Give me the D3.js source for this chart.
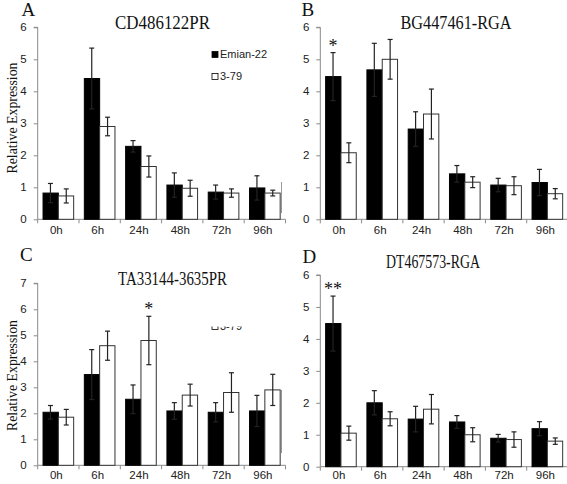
<!DOCTYPE html>
<html><head><meta charset="utf-8">
<script src="https://cdn.jsdelivr.net/npm/d3@7"></script>
<style>html,body{margin:0;padding:0;background:#fff;}svg{display:block;}</style>
</head><body>
<script>
const categories = ["0h","6h","24h","48h","72h","96h"];
const seriesNames = ["Emian-22","3-79"];
const panelLetters = ["A","B","C","D"];
const panelTitles = ["CD486122PR","BG447461-RGA","TA33144-3635PR","DT467573-RGA"];
const yTicksAB = [0,1,2,3,4,5,6];
const yTicksC = [0,1,2,3,4,5,6,7];
const yTicksD = [0,1,2,3,4,5,6];

const aEmian = [0.82, 4.40, 2.28, 1.07, 0.85, 0.98];
const aEmianErr = [0.30, 0.95, 0.18, 0.38, 0.22, 0.38];
const a379 = [0.73, 2.90, 1.65, 0.97, 0.82, 0.82];
const a379Err = [0.22, 0.29, 0.33, 0.25, 0.13, 0.09];

const bEmian = [4.46, 4.67, 2.82, 1.42, 1.07, 1.15];
const bEmianErr = [0.75, 0.83, 0.54, 0.26, 0.21, 0.41];
const b379 = [2.08, 5.00, 3.29, 1.16, 1.05, 0.80];
const b379Err = [0.31, 0.62, 0.78, 0.17, 0.28, 0.16];

const cEmian = [2.04, 3.49, 2.54, 2.09, 2.04, 2.09];
const cEmianErr = [0.26, 0.96, 0.55, 0.32, 0.37, 0.60];
const c379 = [1.85, 4.60, 4.80, 2.70, 2.80, 2.90];
const c379Err = [0.30, 0.56, 0.93, 0.42, 0.76, 0.60];

const dEmian = [4.48, 2.00, 1.49, 1.40, 0.89, 1.19];
const dEmianErr = [0.86, 0.38, 0.40, 0.20, 0.12, 0.22];
const d379 = [1.05, 1.50, 1.80, 1.00, 0.85, 0.80];
const d379Err = [0.22, 0.22, 0.46, 0.22, 0.24, 0.10];

// significance marks: [panel index, category, series index, label]
const sigMarks = [[1,"0h",0,"*"],[2,"24h",1,"*"],[3,"0h",0,"**"]];

const W = 567, H = 484;
const svg = d3.select("body").append("svg").attr("width", W).attr("height", H);

const panels = [
  {vals:[aEmian,a379], errs:[aEmianErr,a379Err], ticks:yTicksAB, x0:37.7, x1:285.5, y0:219.3, y1:27.3, ylab:true, legend:"full", pad:7},
  {vals:[bEmian,b379], errs:[bEmianErr,b379Err], ticks:yTicksAB, x0:320.3, x1:568, y0:219.3, y1:27.3, ylab:false, pad:7},
  {vals:[cEmian,c379], errs:[cEmianErr,c379Err], ticks:yTicksC, x0:37.7, x1:285.5, y0:465.3, y1:283.3, ylab:true, legend:"clipped", pad:6},
  {vals:[dEmian,d379], errs:[dEmianErr,d379Err], ticks:yTicksD, x0:320.3, x1:568, y0:466.7, y1:275, ylab:false, pad:4}
];
const letterPos = [[21.5,15.5],[301.5,15.5],[20,261],[302.5,263]];
const titlePos = [[162.5,29,95],[456,28.5,111],[172.5,285,109],[433,268,94]];
const ylabPos = [[17,118],[17,375.5]];

const axisColor = "#8a8a8a";
const fills = ["#000","#fff"];

panels.forEach((p, pi) => {
  const g = svg.append("g");
  const yMax = d3.max(p.ticks);
  const y = d3.scaleLinear().domain([0, yMax]).range([p.y0, p.y1]);
  const x = d3.scaleBand().domain(categories).range([p.x0, p.x1]).paddingInner(0.234).paddingOuter(0.117);
  const xs = d3.scaleBand().domain(d3.range(seriesNames.length)).range([0, x.bandwidth()]);

  // y axis
  const ya = d3.axisLeft(y).tickValues(p.ticks).tickSize(4).tickPadding(7).tickFormat(d3.format("d"));
  const yg = g.append("g").attr("transform", `translate(${p.x0},0)`).call(ya);
  yg.select(".domain").attr("stroke", axisColor).attr("d", `M-4,${p.y1}H0V${p.y0}`);
  yg.selectAll(".tick line").attr("stroke", axisColor);
  yg.selectAll(".tick text").attr("font-family","Liberation Sans, Arial, sans-serif").attr("font-size", 11.5).attr("fill","#222");

  // x axis
  const xa = d3.axisBottom(x).tickSize(0).tickPadding(p.pad);
  const xg = g.append("g").attr("transform", `translate(0,${p.y0})`).call(xa);
  xg.select(".domain").attr("stroke", axisColor).attr("d", `M${p.x0},0H${p.x1}`);
  xg.selectAll(".tick text").attr("font-family","Liberation Sans, Arial, sans-serif").attr("font-size", 11.5).attr("fill","#222").attr("dx", -2);
  const step = x.step();
  g.append("g").selectAll("line").data(d3.range(categories.length + 1)).join("line")
    .attr("x1", i => p.x0 + i * step).attr("x2", i => p.x0 + i * step)
    .attr("y1", p.y0).attr("y2", p.y0 + 4).attr("stroke", axisColor);

  // bars
  seriesNames.forEach((s, si) => {
    const bw = xs.bandwidth();
    g.append("g").selectAll("rect").data(categories).join("rect")
      .attr("x", (c) => x(c) + xs(si) + (si ? 0 : 0.5))
      .attr("y", (c, i) => y(p.vals[si][i]))
      .attr("width", bw - 0.5)
      .attr("height", (c, i) => y(0) - y(p.vals[si][i]))
      .attr("fill", fills[si])
      .attr("stroke", si ? "#333" : "#000").attr("stroke-width", 1);
    // error bars
    const eg = g.append("g").attr("stroke", "#222").attr("stroke-width", 1.2);
    categories.forEach((c, i) => {
      const cx = x(c) + xs(si) + bw / 2;
      const v = p.vals[si][i], e = p.errs[si][i];
      eg.append("line").attr("x1", cx).attr("x2", cx).attr("y1", y(v + e)).attr("y2", y(v - e));
      eg.append("line").attr("x1", cx - 2.5).attr("x2", cx + 2.5).attr("y1", y(v + e)).attr("y2", y(v + e));
      eg.append("line").attr("x1", cx - 2.5).attr("x2", cx + 2.5).attr("y1", y(v - e)).attr("y2", y(v - e));
    });
  });

  // significance
  sigMarks.filter(m => m[0] === pi).forEach(m => {
    const i = categories.indexOf(m[1]);
    const si = m[2];
    const cx = x(m[1]) + xs(si) + xs.bandwidth() / 2;
    const top = y(p.vals[si][i] + p.errs[si][i]);
    g.append("text").attr("x", cx).attr("y", top - 1).attr("text-anchor","middle")
      .attr("font-family","Liberation Serif, serif").attr("font-size", 18).attr("fill","#111").text(m[3]);
  });

  // letter
  g.append("text").attr("x", letterPos[pi][0]).attr("y", letterPos[pi][1])
    .attr("font-family","Liberation Serif, Times New Roman, serif").attr("font-size", 19).attr("fill","#111").text(panelLetters[pi]);
  // title
  g.append("text").attr("x", titlePos[pi][0]).attr("y", titlePos[pi][1]).attr("text-anchor","middle")
    .attr("font-family","Liberation Serif, Times New Roman, serif").attr("font-size", 19).attr("fill","#111")
    .attr("textLength", titlePos[pi][2]).attr("lengthAdjust","spacingAndGlyphs").text(panelTitles[pi]);

  if (p.ylab) {
    const yp = ylabPos[pi === 0 ? 0 : 1];
    g.append("text").attr("transform", `translate(${yp[0]},${yp[1]}) rotate(-90)`).attr("text-anchor","middle")
      .attr("font-family","Liberation Serif, Times New Roman, serif").attr("font-size", 14).attr("fill","#111")
      .attr("textLength", 111).attr("lengthAdjust","spacingAndGlyphs").text("Relative Expression");
  } else {
    // fragment of clipped axis line visible at the panel edge
    const frag = pi === 1 ? [182, 213] : [390, 453];
    g.append("line").attr("x1", 281.5).attr("x2", 281.5).attr("y1", frag[0]).attr("y2", frag[1]).attr("stroke", "#999").attr("stroke-width", 1);
  }

  // legend
  if (p.legend) {
    const lg = g.append("g");
    const baseY = pi === 0 ? 0 : 250;
    if (p.legend === "clipped") {
      svg.append("clipPath").attr("id","legclip").append("rect").attr("x", 200).attr("y", 326.5).attr("width", 60).attr("height", 10);
      lg.attr("clip-path","url(#legclip)");
    }
    seriesNames.forEach((s, si) => {
      if (p.legend === "clipped" && si === 0) return;
      const ly = baseY + 54.5 + si * 22;
      lg.append("rect").attr("x", 212).attr("y", ly - 3).attr("width", 6).attr("height", 6)
        .attr("fill", fills[si]).attr("stroke", "#000").attr("stroke-width", 0.8);
      lg.append("text").attr("x", 220).attr("y", ly + 3.8)
        .attr("font-family","Liberation Sans, Arial, sans-serif").attr("font-size", 11).attr("fill","#222").text(s);
    });
  }
});
</script>
</body></html>
